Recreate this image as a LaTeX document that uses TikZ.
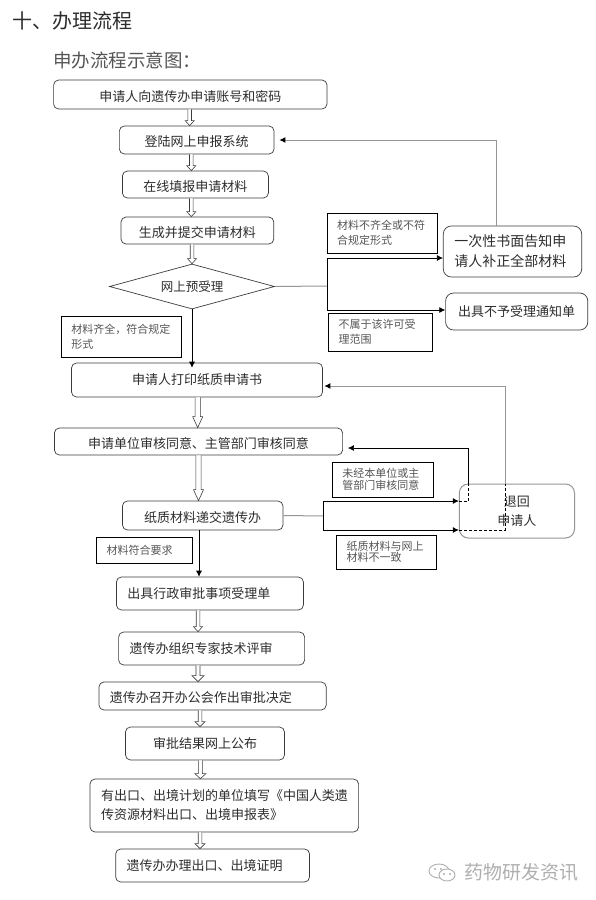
\documentclass[tikz,border=0pt]{standalone}
\usepackage{fontspec}
\usetikzlibrary{arrows.meta,calc,shapes.geometric}
\setmainfont{Noto Sans CJK SC}
\definecolor{inkline}{RGB}{60,60,60}
\definecolor{paleline}{RGB}{150,150,150}
\definecolor{inktext}{RGB}{45,45,45}
\definecolor{notetext}{RGB}{85,85,85}
\definecolor{markgray}{RGB}{175,175,175}

\tikzset{
  stepbox/.style={draw=inkline, rounded corners=5pt, line width=.7pt, text=inktext, inner sep=0pt,
                  font=\fontsize{13}{19}\selectfont, align=center},
  stepleft/.style={stepbox, align=left, inner xsep=11pt, text width=#1},
  lowered/.style={text height=15.4pt, text depth=1.6pt},
  notebox/.style={draw=black, line width=.8pt, text=notetext, inner xsep=10pt, inner ysep=0pt,
                  font=\fontsize{11}{15}\selectfont, align=left, text width=#1},
  hollow/.style={draw=inkline, line width=.6pt, fill=white, line join=miter},
  solidarrow/.style={draw=black, line width=.7pt, -{Latex[length=6pt,width=6pt]}},
  palearrow/.style={draw=paleline, line width=1pt, -{Latex[length=6pt,width=6pt,color=black]}},
  inside/.style={draw=black, line width=.6pt, dash pattern=on 3pt off 2pt},
}

\begin{document}
\begin{tikzpicture}[x=1pt, y=-1pt]
  \useasboundingbox[fill=white] (0,0) rectangle (596,900);
  % headings
  \node[anchor=west, inner sep=0pt, font=\fontsize{20}{24}\selectfont, text=inktext] (title) at (12,21) {十、办理流程};
  \node[anchor=west, inner sep=0pt, font=\fontsize{18.5}{22}\selectfont, text=notetext] (subtitle) at (53,60) {申办流程示意图：};
  % main column
  \node[stepbox, lowered, minimum width=273.4, minimum height=29] (account) at (190.3,94.5) {申请人向遗传办申请账号和密码};
  \node[stepbox, lowered, minimum width=154.7, minimum height=28] (login) at (196.7,140) {登陆网上申报系统};
  \node[stepbox, lowered, minimum width=146, minimum height=27] (fillin) at (195.4,184.5) {在线填报申请材料};
  \node[stepbox, lowered, minimum width=152.8, minimum height=27] (submit) at (197.4,230.5) {生成并提交申请材料};
  \node[draw=inkline, line width=.7pt, diamond, aspect=3.7, inner sep=0pt, minimum width=165, minimum height=45,
        text=inktext, font=\fontsize{12.5}{15}\selectfont] (precheck) at (192,286.5) {网上预受理};
  \node[stepbox, minimum width=251, minimum height=34] (printout) at (197,380) {申请人打印纸质申请书};
  \node[stepbox, lowered, minimum width=288.2, minimum height=27] (review) at (198.5,441.5) {申请单位审核同意、主管部门审核同意};
  \node[stepbox, lowered, minimum width=160.5, minimum height=29] (paper) at (202.7,515.5) {纸质材料递交遗传办};
  \node[stepleft=165, minimum height=33] (receipt) at (209.9,593.5) {出具行政审批事项受理单};
  \node[stepleft=164, minimum height=33] (expert) at (211.6,648.5) {遗传办组织专家技术评审};
  \node[stepleft=205.3, lowered, minimum height=28] (meeting) at (212.6,696) {遗传办召开办公会作出审批决定};
  \node[stepbox, minimum width=159, minimum height=33] (publish) at (205,743.5) {审批结果网上公布};
  \node[stepleft=246.6, minimum height=53] (export) at (224.3,805.5) {有出口、出境计划的单位填写《中国人类遗\\传资源材料出口、出境申报表》};
  \node[stepleft=171.9, minimum height=33] (permit) at (212.6,865.5) {遗传办办理出口、出境证明};
  % right column
  \node[stepleft=116.4, minimum height=51, font=\fontsize{14}{20}\selectfont, rounded corners=8pt] (notify) at (512.5,251.5) {一次性书面告知申\\请人补正全部材料};
  \node[stepbox, minimum width=142.2, minimum height=37, rounded corners=8pt] (refuse) at (516.7,311.5) {出具不予受理通知单};
  \node[stepbox, draw=paleline, line width=1pt, minimum width=115.2, minimum height=54, rounded corners=9pt] (giveback) at (516.9,511) {退回\\申请人};
  % notes
  \node[notebox=90.6, minimum height=40] (noteform) at (382.3,233) {材料不齐全或不符\\合规定形式};
  \node[notebox=84.2, minimum height=38] (notescope) at (380.6,332) {不属于该许可受\\理范围};
  \node[notebox=100.5, minimum height=41] (notecomplete) at (121.5,336.5) {材料齐全，符合规定\\形式};
  \node[notebox=81.5, minimum height=35, font=\fontsize{11}{11.5}\selectfont] (noteunit) at (383,479.5) {未经本单位或主\\管部门审核同意};
  \node[notebox=80, minimum height=34, font=\fontsize{11}{11.5}\selectfont] (notediffer) at (386.5,552) {纸质材料与网上\\材料不一致};
  \node[notebox=76.2, minimum height=26] (noteok) at (144.7,550) {材料符合要求};
  % hollow arrows down the column
  \foreach \a/\b/\col/\sw/\hw/\hl in {account/login/189.7/1.8/4.5/5, login/fillin/191.3/1.8/4.5/5, fillin/submit/191.3/1.8/4.5/5,
                                      submit/precheck/192/1.8/4.5/5, printout/review/197.7/2.6/5/11, review/paper/198.5/2.6/5/11,
                                      receipt/expert/198/1.8/4.5/5, expert/meeting/198/2/6/6,
                                      meeting/publish/200/1.8/5/5, publish/export/200.4/2/5.5/5, export/permit/200/1.8/5/5}
    \draw[hollow] let \p1=(\a.south -| \col,0), \p2=(\b.north -| \col,0) in
      (\x1-\sw pt,\y1) -- (\x1-\sw pt,\y2+\hl pt) -- (\x1-\hw pt,\y2+\hl pt) -- (\x1,\y2)
      -- (\x1+\hw pt,\y2+\hl pt) -- (\x1+\sw pt,\y2+\hl pt) -- (\x1+\sw pt,\y1);
  \draw[solidarrow] (precheck.south) -- ([yshift=-5pt]printout.north -| precheck.south);
  \draw[solidarrow] (paper.south -| 199,0) -- (receipt.north -| 199,0);
  % branch after the pre-check
  \coordinate (forkcheck) at (327,286);
  \draw[draw=paleline, line width=1pt] (precheck.east) -- (forkcheck);
  \draw[solidarrow] (forkcheck) |- (notify.west |- 0,258);
  \draw[solidarrow] (forkcheck) |- (refuse.west |- 0,310);
  \draw[palearrow] (notify.north -| 496.6,0) |- ([xshift=5pt]login.east);
  % branch after the paper check
  \coordinate (forkpaper) at (323.6,516);
  \draw[draw=paleline, line width=1pt] (paper.east) -- (forkpaper);
  \draw[solidarrow] (forkpaper) |- (giveback.west |- 0,501);
  \draw[solidarrow] (forkpaper) |- (giveback.west |- 0,530);
  % back to the applicant
  \draw[solidarrow] (giveback.north -| 468.4,0) |- ([xshift=5pt]review.east |- 0,448);
  \draw[palearrow] (giveback.north -| 505,0) |- ([xshift=1.5pt]printout.east |- 0,386);
  \draw[inside] (giveback.west |- 0,501) -| (giveback.north -| 468.4,0);
  \draw[inside] (giveback.west |- 0,530) -| (giveback.north -| 505,0);
  % watermark
  \node[anchor=west, inner sep=0pt, font=\fontsize{19}{22}\selectfont, text=markgray] (mark) at (464,872) {药物研发资讯};
  \draw[markgray, line width=.9pt] (439,871) ellipse (10 and 7);
  \draw[markgray, fill=white, line width=.9pt] (447,875) ellipse (8 and 6);
  \foreach \p in {(435,869),(441,869),(444,874),(450,874)}
    \fill[markgray] \p circle (1.1);
\end{tikzpicture}
\end{document}
